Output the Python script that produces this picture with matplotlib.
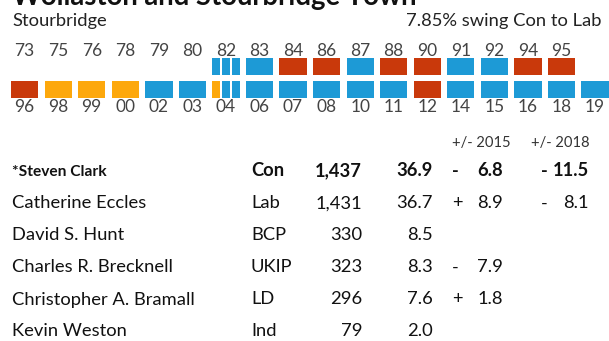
import matplotlib
matplotlib.use("Agg")
import matplotlib.pyplot as plt

# ---------------- data ----------------
title = "Wollaston and Stourbridge Town"
ward = "Stourbridge"
swing = "7.85% swing Con to Lab"

top_years = ['73', '75', '76', '78', '79', '80', '82', '83', '84', '86', '87',
             '88', '90', '91', '92', '94', '95']
top_results = [None, None, None, None, None, None,
               ['Con', 'Con', 'Con'], ['Con'], ['Lab'], ['Lab'], ['Con'],
               ['Lab'], ['Lab'], ['Con'], ['Con'], ['Lab'], ['Lab']]

bottom_years = ['96', '98', '99', '00', '02', '03', '04', '06', '07', '08',
                '10', '11', '12', '14', '15', '16', '18', '19']
bottom_results = [['Lab'], ['LD'], ['LD'], ['LD'], ['Con'], ['Con'],
                  ['LD', 'Con', 'Con'], ['Con'], ['Con'], ['Con'], ['Con'],
                  ['Con'], ['Lab'], ['Con'], ['Con'], ['Con'], ['Con'], ['Con']]

party_colors = {'Con': '#1D9AD6', 'Lab': '#C9390B', 'LD': '#FDA80C'}

candidates = ['*Steven Clark', 'Catherine Eccles', 'David S. Hunt',
              'Charles R. Brecknell', 'Christopher A. Bramall', 'Kevin Weston']
parties = ['Con', 'Lab', 'BCP', 'UKIP', 'LD', 'Ind']
votes = [1437, 1431, 330, 323, 296, 79]
pcts = [36.9, 36.7, 8.5, 8.3, 7.6, 2.0]
chg2015 = [-6.8, 8.9, None, -7.9, 1.8, None]
chg2018 = [-11.5, -8.1, None, None, None, None]
headers = ['+/- 2015', '+/- 2018']

# ---------------- layout ----------------
W, H = 609, 341
fig = plt.figure(figsize=(W / 100, H / 100), dpi=100)
ax = fig.add_axes([0, 0, 1, 1])
ax.set_xlim(0, W)
ax.set_ylim(H, 0)
ax.axis('off')

FONT = 'Lato'
FS = 13.2
x0, step, bw, bh = 11.0, 33.55, 27.3, 17.3
gap = 1.6
top_y, bot_y = 57.7, 81.0

def draw_boxes(results, ytop):
    for i, res in enumerate(results):
        if not res:
            continue
        n = len(res)
        sw = (bw - gap * (n - 1)) / n
        for j, p in enumerate(res):
            ax.bar(x0 + i * step + j * (sw + gap), bh, width=sw, bottom=ytop,
                   align='edge', color=party_colors[p], linewidth=0)

draw_boxes(top_results, top_y)
draw_boxes(bottom_results, bot_y)

for i, y in enumerate(top_years):
    ax.text(x0 + i * step + bw / 2, 55.7, y, ha='center', va='baseline',
            fontsize=12.5, color='#444444', family=FONT)
for i, y in enumerate(bottom_years):
    ax.text(x0 + i * step + bw / 2, 112.3, y, ha='center', va='baseline',
            fontsize=12.5, color='#444444', family=FONT)

# title (clipped at the top, as in the reference)
ax.text(12, 4.5, title, ha='left', va='baseline', fontsize=19.8,
        fontweight='bold', color='#111111', family=FONT, clip_on=False)
ax.text(12, 26, ward, ha='left', va='baseline', fontsize=FS,
        color='#222222', family=FONT)
ax.text(602, 26, swing, ha='right', va='baseline', fontsize=FS,
        color='#222222', family=FONT)

# table
ax.text(511, 147, headers[0], ha='right', va='baseline', fontsize=10.6,
        color='#333333', family=FONT)
ax.text(590, 147, headers[1], ha='right', va='baseline', fontsize=10.6,
        color='#333333', family=FONT)

def fmt_votes(v):
    return f"{v:,}"

for r in range(len(candidates)):
    yb = 176.5 + r * 32
    wt = 'bold' if r == 0 else 'normal'
    kw = dict(va='baseline', fontsize=FS, color='#111111', family=FONT,
              fontweight=wt)
    name_kw = dict(kw)
    if r == 0:
        name_kw['fontsize'] = 11.2
    ax.text(12, yb, candidates[r], ha='left', **name_kw)
    ax.text(251, yb, parties[r], ha='left', **kw)
    ax.text(362, yb, fmt_votes(votes[r]), ha='right', **kw)
    ax.text(433, yb, f"{pcts[r]:.1f}", ha='right', **kw)
    for val, sx, vx in ((chg2015[r], 452, 503), (chg2018[r], 541, 589)):
        if val is None:
            continue
        ax.text(sx, yb, '-' if val < 0 else '+', ha='left', **kw)
        ax.text(vx, yb, f"{abs(val):.1f}", ha='right', **kw)

fig.savefig('out.png', dpi=100)
